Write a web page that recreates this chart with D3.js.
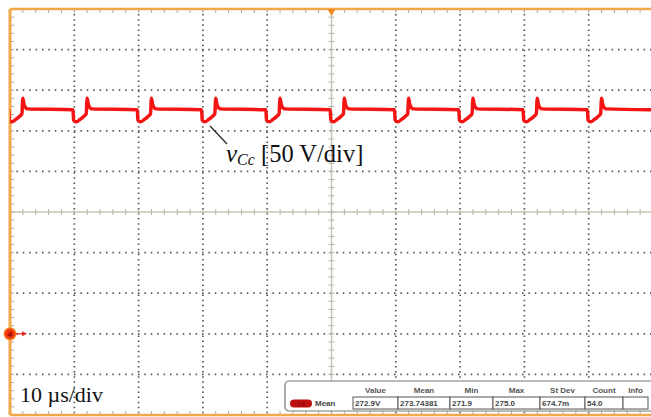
<!DOCTYPE html>
<html>
<head>
<meta charset="utf-8">
<script src="https://cdn.jsdelivr.net/npm/d3@7"></script>
<style>
  body { margin: 0; background: #fff; }
  svg { display: block; }
</style>
</head>
<body>
<div id="scope"></div>
<script>
// scope settings: 10 us/div horizontally, 50 V/div vertically (C4 ground at -100 V + 2 div)
const timeDomain = [0, 100];      // us, 10 divisions
const voltDomain = [-100, 400];   // V, 10 divisions

// falling edges of the vCc ripple (us)
const edgeTimes = [-0.2, 9.8, 19.8, 29.8, 39.8, 49.8, 59.8, 69.8, 79.8, 89.8];
// one switching cycle: time after edge (us) and voltage (V)
const cycleTime = [0, 0.1, 0.5, 1.1, 1.7, 2.05, 2.2, 2.4, 2.9, 10];
const cycleVolt = [276, 263, 261, 264, 268, 271, 290, 282, 277, 276];

// measurement table
const measHeaders = ["Value", "Mean", "Min", "Max", "St Dev", "Count", "Info"];
const measValues = ["272.9V", "273.74381", "271.9", "275.0", "674.7m", "54.0", ""];

const W = 651, H = 417;
const pLeft = 10, pTop = 9, pRight = 653, pBottom = 415;

const svg = d3.select("#scope").append("svg")
  .attr("width", W)
  .attr("height", H);

const x = d3.scaleLinear().domain(timeDomain).range([pLeft, pRight]);
const y = d3.scaleLinear().domain(voltDomain).range([pBottom, pTop]);

const xDiv = d3.range(0, 101, 10);
const yDiv = d3.range(-100, 401, 50);

// dotted grid
svg.append("g").selectAll("line")
  .data(xDiv.filter(d => d > 0 && d < 100 && d !== 50))
  .enter().append("line")
  .attr("x1", d => x(d)).attr("x2", d => x(d))
  .attr("y1", pTop).attr("y2", pBottom)
  .attr("stroke", "#555").attr("stroke-width", 1.7)
  .attr("stroke-dasharray", "1.5,3.6");

svg.append("g").selectAll("line")
  .data(yDiv.filter(d => d > -100 && d < 400 && d !== 150))
  .enter().append("line")
  .attr("x1", pLeft).attr("x2", pRight)
  .attr("y1", d => y(d)).attr("y2", d => y(d))
  .attr("stroke", "#555").attr("stroke-width", 1.7)
  .attr("stroke-dasharray", "1.5,4.9");

// centre axes with minor ticks
const cx = x(50), cy = y(150);
svg.append("line").attr("x1", pLeft).attr("x2", pRight).attr("y1", cy).attr("y2", cy)
  .attr("stroke", "#c8c4b8").attr("stroke-width", 1.5);
svg.append("line").attr("x1", cx).attr("x2", cx).attr("y1", pTop).attr("y2", pBottom)
  .attr("stroke", "#c8c4b8").attr("stroke-width", 1.5);

const xMinor = d3.range(0, 100.01, 2);
const yMinor = d3.range(-100, 400.01, 10);

svg.append("g").selectAll("line").data(xMinor).enter().append("line")
  .attr("x1", d => x(d)).attr("x2", d => x(d))
  .attr("y1", cy - 3).attr("y2", cy + 3)
  .attr("stroke", "#b8b4a8").attr("stroke-width", 1);
svg.append("g").selectAll("line").data(yMinor).enter().append("line")
  .attr("x1", cx - 3).attr("x2", cx + 3)
  .attr("y1", d => y(d)).attr("y2", d => y(d))
  .attr("stroke", "#b8b4a8").attr("stroke-width", 1);

// border ticks
svg.append("g").selectAll("line").data(xMinor).enter().append("line")
  .attr("x1", d => x(d)).attr("x2", d => x(d))
  .attr("y1", pTop).attr("y2", pTop + 4)
  .attr("stroke", "#aaa").attr("stroke-width", 1);
svg.append("g").selectAll("line").data(xMinor).enter().append("line")
  .attr("x1", d => x(d)).attr("x2", d => x(d))
  .attr("y1", pBottom - 4).attr("y2", pBottom)
  .attr("stroke", "#aaa").attr("stroke-width", 1);
svg.append("g").selectAll("line").data(yMinor).enter().append("line")
  .attr("x1", pLeft).attr("x2", pLeft + 4)
  .attr("y1", d => y(d)).attr("y2", d => y(d))
  .attr("stroke", "#aaa").attr("stroke-width", 1);

// orange frame
svg.append("line").attr("x1", pLeft).attr("x2", W).attr("y1", pTop).attr("y2", pTop)
  .attr("stroke", "#f0a848").attr("stroke-width", 2.5);
svg.append("line").attr("x1", pLeft).attr("x2", W).attr("y1", pBottom).attr("y2", pBottom)
  .attr("stroke", "#f0a848").attr("stroke-width", 2.5);
svg.append("line").attr("x1", pLeft).attr("x2", pLeft).attr("y1", pTop).attr("y2", pBottom)
  .attr("stroke", "#f0a848").attr("stroke-width", 3);

// trigger position marker
svg.append("path")
  .attr("d", `M${cx - 4},${pTop} L${cx + 4},${pTop} L${cx},${pTop + 7} Z`)
  .attr("fill", "#f08a20");

// waveform
const pts = [];
edgeTimes.forEach(t0 => {
  cycleTime.forEach((dt, i) => {
    const t = t0 + dt;
    if (t >= timeDomain[0] - 1 && t <= timeDomain[1] + 1) pts.push([t, cycleVolt[i]]);
  });
});
const line = d3.line().x(d => x(d[0])).y(d => y(d[1])).curve(d3.curveMonotoneX);
const trace = svg.append("g");
trace.append("defs").append("clipPath").attr("id", "clip")
  .append("rect").attr("x", pLeft).attr("y", pTop).attr("width", W - pLeft).attr("height", pBottom - pTop);
trace.append("path")
  .datum(pts)
  .attr("clip-path", "url(#clip)")
  .attr("d", line)
  .attr("fill", "none")
  .attr("stroke", "#f41414")
  .attr("stroke-width", 3.5)
  .attr("stroke-linejoin", "round");

// channel 4 ground marker
const g4 = y(0);
const grad = svg.append("defs").append("radialGradient").attr("id", "chg");
grad.append("stop").attr("offset", "0%").attr("stop-color", "#e81808");
grad.append("stop").attr("offset", "70%").attr("stop-color", "#f04010");
grad.append("stop").attr("offset", "100%").attr("stop-color", "#f8a030");
svg.append("circle").attr("cx", pLeft).attr("cy", g4).attr("r", 6.5).attr("fill", "url(#chg)");
svg.append("text").attr("x", pLeft).attr("y", g4 + 3).attr("text-anchor", "middle")
  .attr("font-family", "Liberation Sans, Arial, sans-serif").attr("font-size", 8)
  .attr("fill", "#600").text("4");
svg.append("line").attr("x1", pLeft + 6).attr("x2", pLeft + 15).attr("y1", g4).attr("y2", g4)
  .attr("stroke", "#e02020").attr("stroke-width", 1.2);
svg.append("path").attr("d", `M${pLeft + 12},${g4 - 2.5} L${pLeft + 17},${g4} L${pLeft + 12},${g4 + 2.5} Z`)
  .attr("fill", "#e02020");

// annotation
svg.append("line").attr("x1", 210).attr("y1", 126).attr("x2", 227).attr("y2", 144)
  .attr("stroke", "#222").attr("stroke-width", 1.2);
const lab = svg.append("text").attr("x", 226).attr("y", 162)
  .attr("font-family", "Liberation Serif, Times New Roman, serif")
  .attr("fill", "#111");
lab.append("tspan").attr("font-size", 25).attr("font-style", "italic").text("v");
lab.append("tspan").attr("font-size", 16).attr("font-style", "italic").attr("dy", 3).text("Cc");
lab.append("tspan").attr("font-size", 24.5).attr("dy", -3).text(" [50 V/div]");

svg.append("text").attr("x", 20).attr("y", 402)
  .attr("font-family", "Liberation Serif, Times New Roman, serif")
  .attr("font-size", 22).attr("fill", "#111")
  .text("10 \u00b5s/div");

// measurement panel
const panel = svg.append("g");
panel.append("rect").attr("x", 285).attr("y", 381).attr("width", 380).attr("height", 30)
  .attr("rx", 4).attr("fill", "#fff").attr("stroke", "#777").attr("stroke-width", 1.2);
const colX = [353, 398, 450, 493, 540, 585, 623, 648];
panel.selectAll("text.h").data(measHeaders).enter().append("text")
  .attr("class", "h")
  .attr("x", (d, i) => (colX[i] + colX[i + 1]) / 2)
  .attr("y", 393)
  .attr("text-anchor", "middle")
  .attr("font-family", "Liberation Sans, Arial, sans-serif")
  .attr("font-size", 8).attr("font-weight", "bold").attr("fill", "#555")
  .text(d => d);
panel.selectAll("rect.c").data(measValues).enter().append("rect")
  .attr("class", "c")
  .attr("x", (d, i) => colX[i]).attr("y", 397)
  .attr("width", (d, i) => colX[i + 1] - colX[i]).attr("height", 12)
  .attr("fill", "#fff").attr("stroke", "#555").attr("stroke-width", 1);
panel.selectAll("text.v").data(measValues).enter().append("text")
  .attr("class", "v")
  .attr("x", (d, i) => colX[i] + 2).attr("y", 406)
  .attr("font-family", "Liberation Sans, Arial, sans-serif")
  .attr("font-size", 8).attr("font-weight", "bold").attr("fill", "#444")
  .text(d => d);
panel.append("rect").attr("x", 290).attr("y", 399.5).attr("width", 22).attr("height", 8)
  .attr("rx", 4).attr("fill", "#c01010");
panel.append("text").attr("x", 301).attr("y", 406).attr("text-anchor", "middle")
  .attr("font-family", "Liberation Sans, Arial, sans-serif").attr("font-size", 6)
  .attr("fill", "#700").text("C4");
panel.append("text").attr("x", 315).attr("y", 406)
  .attr("font-family", "Liberation Sans, Arial, sans-serif")
  .attr("font-size", 8).attr("font-weight", "bold").attr("fill", "#444")
  .text("Mean");
</script>
</body>
</html>
